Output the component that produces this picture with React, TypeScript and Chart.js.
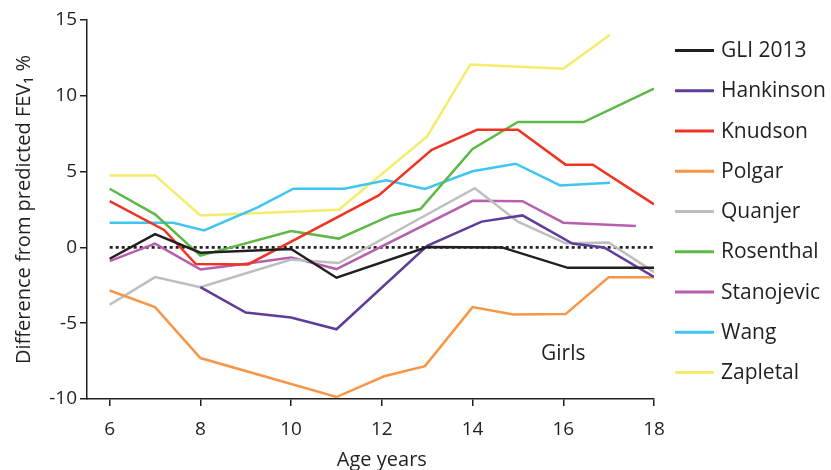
import React, { useEffect, useRef } from "react";
import { Chart, registerables } from "chart.js";

Chart.register(...registerables);

// ---------- data ----------
const seriesNames = [
  "GLI 2013",
  "Hankinson",
  "Knudson",
  "Polgar",
  "Quanjer",
  "Rosenthal",
  "Stanojevic",
  "Wang",
  "Zapletal",
];

const gliAges = [6, 7, 8, 10, 11, 13, 14.65, 16.1, 18];
const gliValues = [-0.75, 0.88, -0.35, -0.1, -2.0, 0.02, 0.0, -1.35, -1.35];

const hankinsonAges = [8, 9, 10, 11, 13, 14.2, 15.1, 16.2, 16.9, 18];
const hankinsonValues = [-2.62, -4.3, -4.62, -5.4, 0.1, 1.7, 2.11, 0.25, 0.0, -1.95];

const knudsonAges = [6, 7.2, 7.9, 9.05, 11.93, 13.1, 14.1, 15, 16.05, 16.65, 18];
const knudsonValues = [3.05, 1.15, -1.1, -1.12, 3.43, 6.44, 7.76, 7.76, 5.46, 5.46, 2.84];

const polgarAges = [6, 7, 8, 11, 12.05, 12.95, 14, 14.9, 16.05, 17, 18];
const polgarValues = [-2.84, -3.94, -7.3, -9.87, -8.5, -7.83, -3.94, -4.42, -4.4, -1.97, -1.97];

const quanjerAges = [6, 7, 8, 10, 11.05, 14.05, 15, 16.05, 17, 18];
const quanjerValues = [-3.78, -1.96, -2.62, -0.8, -1.03, 3.9, 1.7, 0.27, 0.33, -1.63];

const rosenthalAges = [6, 7, 8, 10, 11.05, 12.2, 12.85, 14, 15, 16.45, 18];
const rosenthalValues = [3.87, 2.18, -0.55, 1.08, 0.58, 2.11, 2.53, 6.5, 8.27, 8.27, 10.47];

const stanojevicAges = [6, 7, 8, 9, 10, 11, 14, 15.1, 16, 17.6];
const stanojevicValues = [-0.9, 0.25, -1.45, -1.08, -0.66, -1.43, 3.07, 3.05, 1.63, 1.41];

const wangAges = [6, 7.4, 8.08, 9.25, 10.05, 11.17, 12.1, 12.95, 14, 14.95, 15.93, 17.03];
const wangValues = [1.62, 1.62, 1.12, 2.62, 3.87, 3.87, 4.42, 3.86, 5.02, 5.52, 4.09, 4.27];

const zapletalAges = [6, 7, 8, 11.05, 13, 13.95, 16, 17.03];
const zapletalValues = [4.75, 4.75, 2.11, 2.49, 7.32, 12.07, 11.79, 14.03];

const zeroLineAges = [6, 18];
const zeroLineValues = [0, 0];

const seriesAges = [gliAges, hankinsonAges, knudsonAges, polgarAges, quanjerAges, rosenthalAges, stanojevicAges, wangAges, zapletalAges];
const seriesValues = [gliValues, hankinsonValues, knudsonValues, polgarValues, quanjerValues, rosenthalValues, stanojevicValues, wangValues, zapletalValues];

const xTickValues = [6, 8, 10, 12, 14, 16, 18];
const yTickValues = [-10, -5, 0, 5, 10, 15];

const xTitle = "Age years";
const yTitle = "Difference from predicted FEV\u2081 %";
const panelLabel = "Girls";
const panelLabelAt = [16, -7];

// ---------- styles ----------
const seriesColors = [
  "#231f20",
  "#5e3c99",
  "#ee3524",
  "#f79646",
  "#bcbec0",
  "#5db846",
  "#b660ad",
  "#3ec6f0",
  "#f4ec6a",
];
const INK = "#231f20";
const FONT = "'Open Sans', 'DejaVu Sans', sans-serif";

const extrasPlugin = {
  id: "extras",
  afterDraw(chart: any) {
    const ctx = chart.ctx;
    const xs = chart.scales.x;
    const ys = chart.scales.y;
    ctx.save();
    ctx.fillStyle = INK;
    // x axis title, centred on the ticked range
    ctx.font = `20px ${FONT}`;
    ctx.textAlign = "center";
    ctx.textBaseline = "middle";
    const xMid = xs.getPixelForValue((xTickValues[0] + xTickValues[xTickValues.length - 1]) / 2);
    ctx.fillText(xTitle, xMid, 460);
    // panel label
    ctx.font = `21px ${FONT}`;
    ctx.fillText(panelLabel, xs.getPixelForValue(panelLabelAt[0]), ys.getPixelForValue(panelLabelAt[1]));
    // legend
    ctx.textAlign = "left";
    ctx.textBaseline = "alphabetic";
    ctx.font = `21px ${FONT}`;
    seriesNames.forEach((name, i) => {
      const y = 50.5 + i * 40.25;
      ctx.strokeStyle = seriesColors[i];
      ctx.lineWidth = 3;
      ctx.beginPath();
      ctx.moveTo(675, y);
      ctx.lineTo(714, y);
      ctx.stroke();
      ctx.fillStyle = INK;
      ctx.fillText(name, 721, y + 6.5);
    });
    ctx.restore();
  },
};

export default function App() {
  const canvasRef = useRef<HTMLCanvasElement | null>(null);

  useEffect(() => {
    const canvas = canvasRef.current;
    if (!canvas) return;

    const datasets: any[] = seriesNames.map((name, i) => ({
      label: name,
      data: seriesAges[i].map((a, j) => ({ x: a, y: seriesValues[i][j] })),
      borderColor: seriesColors[i],
      backgroundColor: seriesColors[i],
      borderWidth: 2.5,
      pointRadius: 0,
      tension: 0,
      fill: false,
    }));
    datasets.push({
      label: "zero",
      data: zeroLineAges.map((a, j) => ({ x: a, y: zeroLineValues[j] })),
      borderColor: INK,
      borderWidth: 2.7,
      borderDash: [3, 3],
      pointRadius: 0,
      tension: 0,
      fill: false,
    });

    const chart = new Chart(canvas, {
      type: "line",
      data: { datasets },
      options: {
        responsive: false,
        animation: false,
        layout: { padding: { left: 0, right: 177, top: 20, bottom: 0 } },
        plugins: {
          legend: { display: false },
          tooltip: { enabled: false },
        },
        scales: {
          x: {
            type: "linear",
            min: 5.5,
            max: 18,
            afterBuildTicks: (axis: any) => {
              axis.ticks = xTickValues.map((v) => ({ value: v }));
            },
            afterFit: (scale: any) => {
              scale.height = 71;
            },
            grid: {
              display: true,
              drawOnChartArea: false,
              drawTicks: true,
              tickLength: 7,
              color: INK,
              lineWidth: 1.5,
            },
            border: { display: true, color: INK, width: 1.5 },
            ticks: {
              color: INK,
              font: { family: FONT, size: 19 },
              padding: 12,
              maxRotation: 0,
            },
          },
          y: {
            type: "linear",
            min: yTickValues[0],
            max: yTickValues[yTickValues.length - 1],
            afterBuildTicks: (axis: any) => {
              axis.ticks = yTickValues.map((v) => ({ value: v }));
            },
            afterFit: (scale: any) => {
              scale.width = 87;
            },
            grid: {
              display: true,
              drawOnChartArea: false,
              drawTicks: true,
              tickLength: 7,
              color: INK,
              lineWidth: 1.5,
            },
            border: { display: true, color: INK, width: 1.5 },
            ticks: {
              color: INK,
              font: { family: FONT, size: 19 },
              padding: 3,
            },
            title: {
              display: true,
              text: yTitle,
              color: INK,
              font: { family: FONT, size: 20 },
              padding: { top: 12, bottom: 0 },
            },
          },
        },
      },
      plugins: [extrasPlugin],
    });

    return () => chart.destroy();
  }, []);

  return (
    <div style={{ position: "absolute", left: 0, top: 0, width: 831, height: 470, background: "#fff" }}>
      <canvas ref={canvasRef} width={831} height={470} />
    </div>
  );
}
